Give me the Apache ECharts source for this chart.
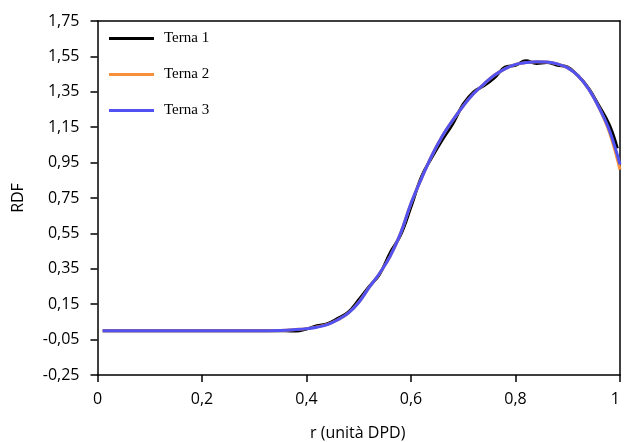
<!DOCTYPE html>
<html>
<head>
<meta charset="utf-8">
<script src="https://cdn.jsdelivr.net/npm/echarts@6/dist/echarts.min.js"></script>
<style>html,body{margin:0;padding:0;background:#fff}#c{width:624px;height:442px}</style>
</head>
<body>
<div id="c"></div>
<script>
var seriesNames = ['Terna 1', 'Terna 2', 'Terna 3'];
var r1 = [0.01, 0.1, 0.2, 0.3, 0.36, 0.38, 0.40, 0.42, 0.44, 0.46, 0.48, 0.50, 0.52, 0.54, 0.56, 0.58, 0.60, 0.62, 0.64, 0.66, 0.68, 0.70, 0.72, 0.74, 0.76, 0.78, 0.80, 0.82, 0.84, 0.86, 0.88, 0.90, 0.92, 0.94, 0.96, 0.98, 0.995];
var terna1 = [0, 0, 0, 0, 0, -0.002, 0.01, 0.028, 0.04, 0.07, 0.105, 0.175, 0.25, 0.32, 0.44, 0.54, 0.70, 0.87, 0.98, 1.08, 1.17, 1.28, 1.35, 1.385, 1.43, 1.49, 1.50, 1.525, 1.51, 1.515, 1.50, 1.49, 1.44, 1.37, 1.27, 1.16, 1.03];
var r2 = [0.01, 0.1, 0.2, 0.3, 0.35, 0.38, 0.40, 0.42, 0.44, 0.46, 0.48, 0.50, 0.52, 0.54, 0.56, 0.58, 0.60, 0.62, 0.64, 0.66, 0.68, 0.70, 0.72, 0.74, 0.76, 0.78, 0.80, 0.82, 0.84, 0.86, 0.88, 0.90, 0.92, 0.94, 0.96, 0.98, 1.00];
var terna2 = [0, 0, 0, 0, 0.002, 0.007, 0.012, 0.022, 0.036, 0.062, 0.1, 0.162, 0.245, 0.325, 0.42, 0.55, 0.72, 0.86, 0.99, 1.1, 1.19, 1.27, 1.34, 1.395, 1.445, 1.48, 1.505, 1.515, 1.52, 1.518, 1.508, 1.485, 1.44, 1.365, 1.26, 1.12, 0.91];
var r3 = [0.01, 0.1, 0.2, 0.3, 0.35, 0.38, 0.40, 0.42, 0.44, 0.46, 0.48, 0.50, 0.52, 0.54, 0.56, 0.58, 0.60, 0.62, 0.64, 0.66, 0.68, 0.70, 0.72, 0.74, 0.76, 0.78, 0.80, 0.82, 0.84, 0.86, 0.88, 0.90, 0.92, 0.94, 0.96, 0.98, 1.00];
var terna3 = [0, 0, 0, 0, 0.002, 0.007, 0.012, 0.02, 0.035, 0.062, 0.1, 0.16, 0.245, 0.325, 0.42, 0.55, 0.72, 0.86, 0.99, 1.1, 1.19, 1.27, 1.34, 1.395, 1.445, 1.48, 1.505, 1.515, 1.52, 1.518, 1.508, 1.485, 1.44, 1.365, 1.26, 1.13, 0.94];
var yTicks = [-0.25, -0.05, 0.15, 0.35, 0.55, 0.75, 0.95, 1.15, 1.35, 1.55, 1.75];
var xTicks = [0, 0.2, 0.4, 0.6, 0.8, 1];
var colors = ['#000000', '#f7903a', '#5252f2'];

function pairs(xs, ys) { return xs.map(function (x, i) { return [x, ys[i]]; }); }
function comma(v, d) { return v.toFixed(d).replace('.', ','); }

var yMin = yTicks[0], yMax = yTicks[yTicks.length - 1];
var xMin = xTicks[0], xMax = xTicks[xTicks.length - 1], xStep = xTicks[1] - xTicks[0];
var font = 'Open Sans';
var chart = echarts.init(document.getElementById('c'), null, { renderer: 'canvas' });

var option = {
  animation: false,
  backgroundColor: '#fff',
  title: {
    text: 'r (unità DPD)', left: 305, top: 420,
    textStyle: { fontFamily: font, fontSize: 16, fontWeight: 'normal', color: '#000' }
  },
  grid: { left: 97.5, right: 4, top: 21, bottom: 67, containLabel: false },
  legend: {
    orient: 'vertical', left: 104, top: 26, icon: 'rect', itemWidth: 45, itemHeight: 3, itemGap: 21,
    textStyle: { fontFamily: 'Liberation Serif', fontSize: 15, color: '#000', padding: [0, 0, 0, 5] },
    data: seriesNames
  },
  xAxis: [{
    type: 'value', min: xMin, max: xMax, interval: xStep, position: 'bottom',
    axisLine: { show: true, onZero: false, lineStyle: { color: '#000', width: 1.5 } },
    splitLine: { show: false },
    axisTick: { show: true, inside: false, length: 7, lineStyle: { color: '#000', width: 1.5 } },
    axisLabel: { show: true, color: '#000', fontFamily: font, fontSize: 16, margin: 16, alignMaxLabel: 'right',
      formatter: function (v) { return v === 0 || v === 1 ? String(v) : comma(v, 1); } }
  }, {
    type: 'value', min: xMin, max: xMax, position: 'top',
    axisLine: { show: true, onZero: false, lineStyle: { color: '#000', width: 1.5 } },
    splitLine: { show: false }, axisTick: { show: false }, axisLabel: { show: false }
  }],
  yAxis: [{
    type: 'value', min: yMin, max: yMax, position: 'left',
    name: 'RDF', nameLocation: 'middle', nameGap: 71,
    nameTextStyle: { fontFamily: font, fontSize: 16, color: '#000' },
    axisLine: { show: true, onZero: false, lineStyle: { color: '#000', width: 1.5 } },
    splitLine: { show: false },
    axisTick: { show: true, inside: false, length: 7, lineStyle: { color: '#000', width: 1.5 }, customValues: yTicks },
    axisLabel: { color: '#000', fontFamily: font, fontSize: 16, margin: 18, customValues: yTicks, formatter: function (v) { return comma(v, 2); } }
  }, {
    type: 'value', min: yMin, max: yMax, position: 'right',
    axisLine: { show: true, onZero: false, lineStyle: { color: '#000', width: 1.5 } },
    splitLine: { show: false }, axisTick: { show: false }, axisLabel: { show: false }
  }],
  series: [
    { name: seriesNames[0], type: 'line', smooth: 0.4, showSymbol: false, data: pairs(r1, terna1), lineStyle: { width: 3, color: colors[0] }, itemStyle: { color: colors[0] } },
    { name: seriesNames[1], type: 'line', smooth: 0.4, showSymbol: false, data: pairs(r2, terna2), lineStyle: { width: 3, color: colors[1] }, itemStyle: { color: colors[1] } },
    { name: seriesNames[2], type: 'line', smooth: 0.4, showSymbol: false, data: pairs(r3, terna3), lineStyle: { width: 3, color: colors[2] }, itemStyle: { color: colors[2] } }
  ]
};
chart.setOption(option);
</script>
</body>
</html>
